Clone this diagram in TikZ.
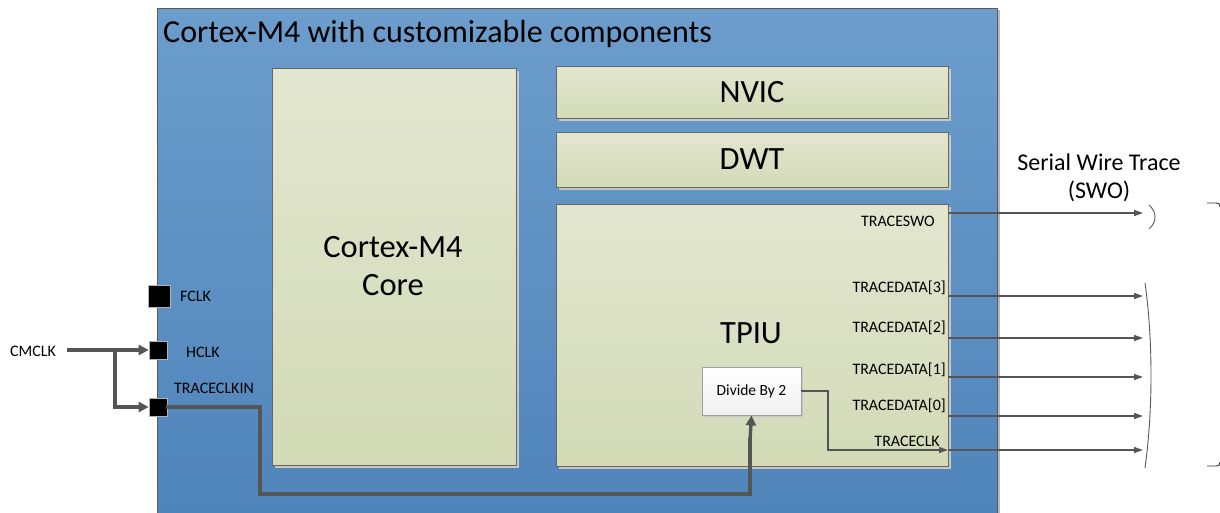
\documentclass[tikz,border=0pt]{standalone}
\usepackage{fontspec}
\setmainfont{Carlito}
\usetikzlibrary{arrows.meta,calc}
\definecolor{bluetop}{HTML}{6C9DCC}
\definecolor{bluebot}{HTML}{4F84BA}
\definecolor{boxtop}{HTML}{E2E6D0}
\definecolor{boxbot}{HTML}{D3DAB6}
\definecolor{wire}{HTML}{555555}
\tikzset{
  blk/.style={draw=gray!80!black, line width=0.8pt, top color=boxtop, bottom color=boxbot, minimum width=#1, inner sep=0pt},
  pin/.style={fill=black, draw=gray!60, line width=0.6pt, minimum size=#1, inner sep=0pt},
  lbl/.style={font=\fontsize{16}{18}\selectfont, inner sep=0pt},
  bigfont/.style={font=\fontsize{32.5}{38}\selectfont},
  thick wire/.style={draw=wire, line width=3.4pt},
  thin wire/.style={draw=wire, line width=1.3pt},
  bigtip/.style={-{Triangle[length=10pt,width=10pt]}},
  smalltip/.style={-{Triangle[length=9pt,width=6pt]}},
}
\begin{document}
\begin{tikzpicture}[x=1pt,y=-1pt]
\useasboundingbox (0,0) rectangle (1220,512);
% outer block
\begin{scope}
\clip (0,0) rectangle (1220,512);
\fill[gray!55] (159,10) rectangle (1000,520);
\node[draw=gray!70!black, line width=0.8pt, top color=bluetop, bottom color=bluebot, minimum width=840pt, minimum height=520pt, inner sep=0pt, anchor=north west] (soc) at (157,8) {};
\end{scope}
\node[anchor=base west, inner sep=0pt, font=\fontsize{32}{36}\selectfont] (title) at (163,42) {Cortex-M4 with customizable components};
% shadows
\foreach \a/\b/\c/\d in {272/68/516/465, 556/66/948/118, 556/132/948/187, 556/204/948/466}
  \fill[gray!45] (\a+3,\b+3) rectangle (\c+3,\d+3);
% blocks
\node[blk=244pt, minimum height=397pt] (core) at (394,266.5) {};
\node[align=center, bigfont, inner sep=0pt] (coretxt) at (393,266) {Cortex-M4\\Core};
\node[blk=392pt, minimum height=52pt, bigfont] (nvic) at (752,92) {NVIC};
\node[blk=392pt, minimum height=55pt, bigfont] (dwt) at (752,159.5) {DWT};
\node[blk=392pt, minimum height=262pt] (tpiu) at (752,335) {};
\node[bigfont, inner sep=0pt] (tpiutxt) at (751,333) {TPIU};
% divide by 2
\fill[gray!45] (704,369) rectangle (803,417);
\node[draw=gray!75, line width=0.8pt, top color=white, bottom color=gray!12, minimum width=99pt, minimum height=48pt, inner sep=0pt, font=\fontsize{15.5}{17}\selectfont] (div) at (751.5,391) {Divide By 2};
% pins
\node[pin=22pt] (fclk) at (159,296) {};
\node[pin=18pt] (hclk) at (158,350) {};
\node[pin=18pt] (tck) at (158,407) {};
\node[lbl, anchor=west] (fclkl) at (180,296) {FCLK};
\node[lbl, anchor=west] (hclkl) at (186,352) {HCLK};
\node[lbl, anchor=west] (tckl) at (174,388) {TRACECLKIN};
\node[lbl, anchor=west] (cmclk) at (10,351) {CMCLK};
% clock input wiring
\coordinate (br) at (115,350);
\draw[thick wire, bigtip] (67,350) -- (hclk.west);
\draw[thick wire, bigtip] (br) |- (tck.west);
\coordinate (t1) at (260,494);
\draw[thick wire, line cap=rect] (tck.east) -| (t1) -| (750,440);
\draw[thick wire, bigtip] (750,440) -- (div.south);
% TPIU labels
\node[lbl, anchor=east] (swol) at (935,221) {TRACESWO};
\node[lbl, anchor=east] (d3l) at (946,288) {TRACEDATA[3]};
\node[lbl, anchor=east] (d2l) at (946,328) {TRACEDATA[2]};
\node[lbl, anchor=east] (d1l) at (946,370) {TRACEDATA[1]};
\node[lbl, anchor=east] (d0l) at (946,406) {TRACEDATA[0]};
\node[lbl, anchor=east] (ckl) at (940,441) {TRACECLK};
% outputs
\foreach \n/\y in {swo/213, d3/296, d2/338, d1/377, d0/416, ck/450}{
  \coordinate (\n s) at (948,\y);
  \coordinate (\n e) at (1143,\y);
  \draw[thin wire, smalltip] (\n s) -- (\n e);
}
% divide output to traceclk
\coordinate (dk) at (828,391);
\draw[thin wire, smalltip] (div.east) -- (dk) |- (cks);
% SWO label
\node[align=center, font=\fontsize{24}{28}\selectfont, inner sep=0pt] (swotxt) at (1099,178) {Serial Wire Trace\\(SWO)};
% brackets
\draw[gray!70!black, line width=0.9pt] (1149,205) .. controls (1157,212) and (1157,222) .. (1149,229);
\draw[gray!70!black, line width=0.9pt] (1145,283) .. controls (1153,340) and (1153,410) .. (1145,468);
\draw[gray!40!black, line width=0.9pt] (1207,203) -- (1216,203) .. controls (1219,203) .. (1220,207);
\draw[gray!40!black, line width=0.9pt] (1207,466) -- (1216,466) .. controls (1219,466) .. (1220,462);
\end{tikzpicture}
\end{document}
